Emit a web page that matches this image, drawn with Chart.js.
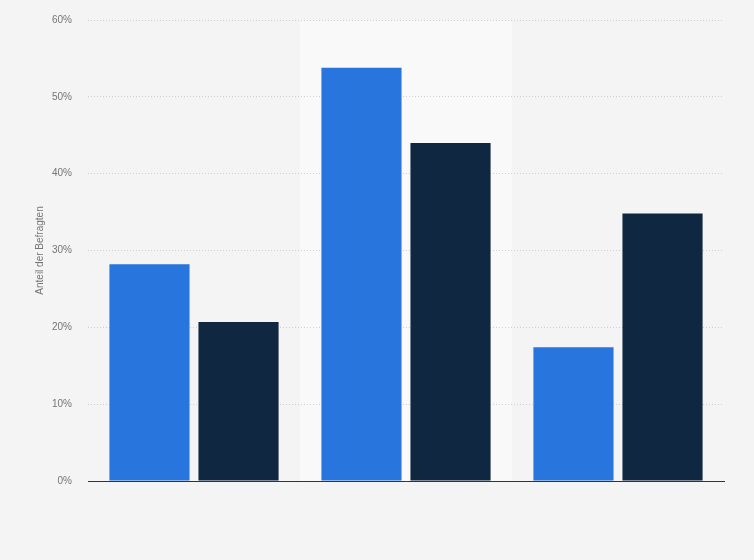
<!DOCTYPE html>
<html>
<head>
<meta charset="utf-8">
<script src="https://cdn.jsdelivr.net/npm/chart.js@4"></script>
<style>
html,body{margin:0;padding:0;background:#f4f4f4;}
#wrap{width:754px;height:560px;}
</style>
</head>
<body>
<div id="wrap"><canvas id="chart"></canvas></div>
<script>
// data
const categories = ["", "", ""];
const seriesA = [28.2, 53.8, 17.4];
const seriesB = [20.7, 44.0, 34.8];
const yTicks = [0, 10, 20, 30, 40, 50, 60];
const highlightIndex = 1;

const bandPlugin = {
  id: "band",
  beforeDraw(chart) {
    const ctx = chart.ctx;
    ctx.save();
    ctx.fillStyle = "#f4f4f4";
    ctx.fillRect(0, 0, chart.width, chart.height);
    const x = chart.scales.x;
    const area = chart.chartArea;
    const w = (area.right - area.left) / categories.length;
    const cx = x.getPixelForValue(highlightIndex);
    ctx.fillStyle = "#f9f9f9";
    ctx.fillRect(cx - w / 2, area.top, w, area.bottom - area.top);
    ctx.restore();
  }
};

new Chart(
  document.getElementById("chart"),
  {
    type: "bar",
    data: {
      labels: categories,
      datasets: [
        { data: seriesA, backgroundColor: "#2876dd", borderWidth: 0 },
        { data: seriesB, backgroundColor: "#0f2740", borderWidth: 0 }
      ]
    },
    options: {
      responsive: true,
      maintainAspectRatio: false,
      animation: false,
      devicePixelRatio: 1,
      categoryPercentage: 0.84,
      barPercentage: 0.9,
      layout: { padding: { left: 30, right: 30, top: 20, bottom: 71 } },
      plugins: {
        legend: { display: false },
        tooltip: { enabled: false }
      },
      scales: {
        x: {
          ticks: { display: false },
          grid: { display: false },
          border: { display: true, color: "#333333", width: 1 }
        },
        y: {
          min: 0,
          max: 60,
          afterBuildTicks(scale) {
            scale.ticks = yTicks.map(v => ({ value: v }));
          },
          afterFit(scale) {
            scale.width = 58;
            scale.paddingTop = 0;
            scale.paddingBottom = 0;
          },
          ticks: {
            callback: v => v + "%",
            color: "#757575",
            font: { family: "Liberation Sans", size: 10 },
            padding: 16
          },
          grid: { color: "#cfcfcf", drawTicks: false, lineWidth: 1 },
          border: { display: false, dash: [1, 2] },
          title: {
            display: true,
            text: "Anteil der Befragten",
            color: "#757575",
            font: { family: "Liberation Sans", size: 10 },
            padding: 4
          }
        }
      }
    },
    plugins: [bandPlugin]
  }
);
</script>
</body>
</html>
